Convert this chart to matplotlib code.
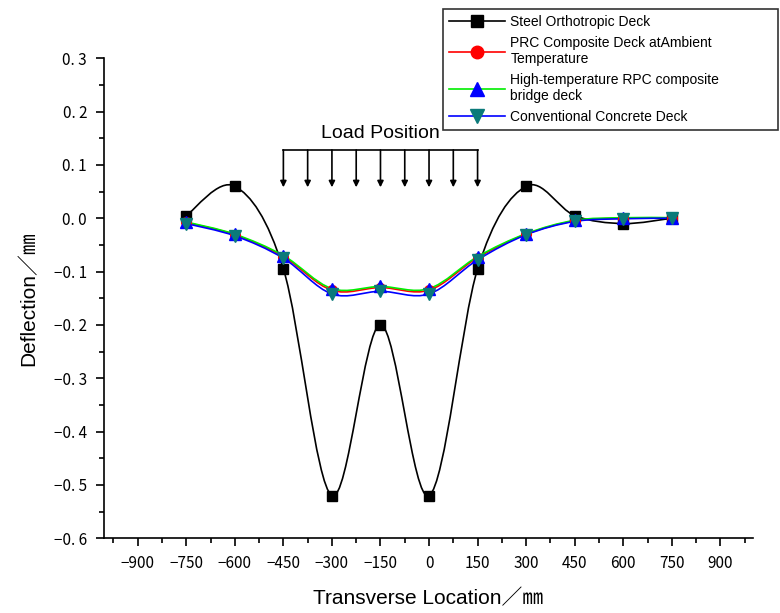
import numpy as np
import matplotlib
matplotlib.use('Agg')
import matplotlib.pyplot as plt
from matplotlib.path import Path
from matplotlib.patches import PathPatch
from matplotlib.lines import Line2D
from matplotlib.ticker import MultipleLocator

# transverse positions (mm)
location = [-750, -600, -450, -300, -150, 0, 150, 300, 450, 600, 750]

# deflection (mm)
steel = [0.005, 0.06, -0.095, -0.52, -0.2, -0.52, -0.095, 0.06, 0.005, -0.01, 0.0]
prc_ambient = [-0.008, -0.031, -0.072, -0.135, -0.130, -0.135, -0.074, -0.030, -0.005, 0.0, 0.0]
rpc_hot = [-0.007, -0.030, -0.070, -0.132, -0.128, -0.132, -0.072, -0.029, -0.004, 0.001, 0.001]
concrete = [-0.010, -0.033, -0.075, -0.142, -0.137, -0.142, -0.078, -0.031, -0.006, -0.001, 0.0]

names = ['Steel Orthotropic Deck',
         'PRC Composite Deck atAmbient\nTemperature',
         'High-temperature RPC composite\nbridge deck',
         'Conventional Concrete Deck']

# load arrows
load_x = [-450, -375, -300, -225, -150, -75, 0, 75, 150]

xticks = [-900, -750, -600, -450, -300, -150, 0, 150, 300, 450, 600, 750, 900]
yticks = [0.3, 0.2, 0.1, 0.0, -0.1, -0.2, -0.3, -0.4, -0.5, -0.6]

tick_font = ['Noto Sans CJK SC', 'DejaVu Sans']
label_font = ['Liberation Sans', 'Noto Sans CJK SC', 'DejaVu Sans']


def spline_path(x, y):
    # catmull-rom like smooth curve as cubic bezier segments
    pts = np.column_stack([x, y]).astype(float)
    ext = np.vstack([pts[0], pts, pts[-1]])
    verts = [pts[0]]
    codes = [Path.MOVETO]
    for i in range(1, len(ext) - 2):
        p0, p1, p2, p3 = ext[i - 1], ext[i], ext[i + 1], ext[i + 2]
        verts += [p1 + (p2 - p0) / 6.0, p2 - (p3 - p1) / 6.0, p2]
        codes += [Path.CURVE4] * 3
    return Path(verts, codes)


fig = plt.figure(figsize=(7.8, 6.13), dpi=100)
ax = fig.add_axes([0.133, 0.122, 0.832, 0.783])

styles = [
    (steel, 'black', 's', 'black', 7),
    (prc_ambient, 'red', 'o', 'red', 7),
    (rpc_hot, '#00ee00', '^', 'blue', 8),
    (concrete, 'blue', 'v', '#0b7a7a', 8),
]

handles = []
for (vals, lc, mk, mc, ms), name in zip(styles, names):
    ax.add_patch(PathPatch(spline_path(location, vals), fill=False,
                           edgecolor=lc, linewidth=1.2, zorder=2))
    ax.plot(location, vals, linestyle='none', marker=mk, color=mc,
            markersize=ms, zorder=3)
    handles.append(Line2D([], [], color=lc, linewidth=1.2, marker=mk,
                          markerfacecolor=mc, markeredgecolor=mc,
                          markersize=ms + 2))

# load position sketch
bar_y, tip_y = 0.128, 0.058
ax.plot([load_x[0], load_x[-1]], [bar_y, bar_y], color='black', linewidth=1.2)
for lx in load_x:
    ax.annotate('', xy=(lx, tip_y), xytext=(lx, bar_y),
                arrowprops=dict(arrowstyle='-|>', color='black', lw=1.2,
                                mutation_scale=9, shrinkA=0, shrinkB=0))
ax.text(np.mean([load_x[0], load_x[-1]]), 0.158, 'Load Position',
        ha='center', va='center', fontsize=14, family=label_font)

ax.set_xlim(-1005, 1000)
ax.set_ylim(-0.6, 0.3)
ax.spines['top'].set_visible(False)
ax.spines['right'].set_visible(False)
for s in ['left', 'bottom']:
    ax.spines[s].set_linewidth(1.2)

ax.set_xticks(xticks)
ax.set_xticklabels([str(v).replace('-', '\u2212') for v in xticks],
                   family=tick_font, fontsize=11)
ax.set_yticks(yticks)
ax.set_yticklabels([('\u2212' if v < 0 else '') + ('%.1f' % abs(v)).replace('.', '. ')
                    for v in yticks], family=tick_font, fontsize=11)
ax.xaxis.set_minor_locator(MultipleLocator(75))
ax.yaxis.set_minor_locator(MultipleLocator(0.05))
ax.tick_params(which='major', direction='out', length=6, width=1.2, pad=6)
ax.tick_params(which='minor', direction='out', length=3.5, width=1.2)

ax.set_xlabel('Transverse Location\uff0f\u339c', fontsize=15, family=label_font, labelpad=12)
ax.set_ylabel('Deflection\uff0f\u339c', fontsize=15, family=label_font, labelpad=11)

leg = fig.legend(handles, names, loc='upper left',
                 bbox_to_anchor=(0.568, 0.57, 0.429, 0.416), mode='expand',
                 prop={'family': label_font, 'size': 10}, frameon=True,
                 fancybox=False, edgecolor='black', handlelength=4.0,
                 handletextpad=0.4, labelspacing=0.5, borderpad=0.45,
                 borderaxespad=0)
leg.get_frame().set_linewidth(1.2)

fig.savefig('out.png', dpi=100)
